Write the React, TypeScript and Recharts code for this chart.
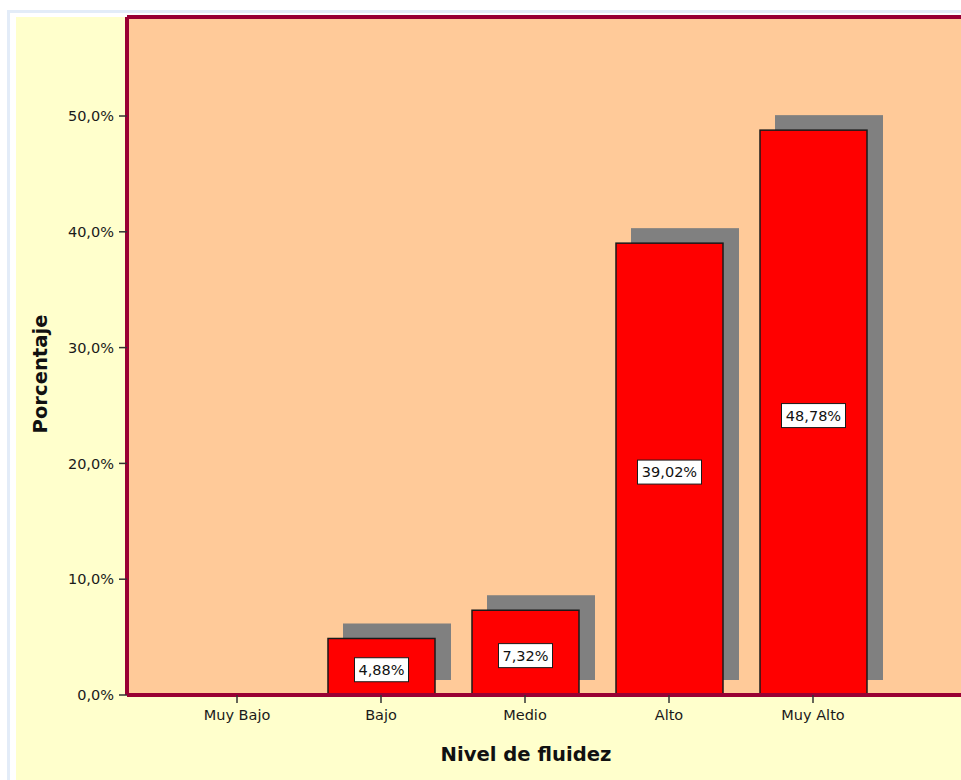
import React from 'react';
import { BarChart, Bar, XAxis, YAxis, CartesianGrid, LabelList, ReferenceLine } from 'recharts';

const categories = ['Muy Bajo', 'Bajo', 'Medio', 'Alto', 'Muy Alto'];
const percentages = [0, 4.88, 7.32, 39.02, 48.78];
const yTicks = [0, 10, 20, 30, 40, 50];
const yMax = 58.55;

const data = categories.map((c, i) => ({ name: c, value: percentages[i] }));

const FONT = '"DejaVu Sans", Verdana, sans-serif';
const CRIMSON = '#990033';

const fmtPct = (v: number, d: number) => v.toFixed(d).replace('.', ',') + '%';

const BarWithShadow = (props: any) => {
  const { x, y, width, height } = props;
  if (!height || height <= 0) return null;
  return (
    <g>
      <rect x={x + 15} y={y - 15} width={width + 1} height={height} fill="#808080" />
      <rect x={x} y={y} width={width} height={height} fill="#FF0000" stroke="#1a1a1a" strokeWidth={1.5} />
    </g>
  );
};

const renderLabel = (props: any) => {
  const { x, y, width, height, value } = props;
  if (!value) return null;
  const text = fmtPct(Number(value), 2);
  const w = text.length * 10 + 4;
  const h = 24;
  const cx = Number(x) + Number(width) / 2;
  const cy = Number(y) + Number(height) / 2 + 3;
  return (
    <g>
      <rect x={cx - w / 2} y={cy - h / 2} width={w} height={h} fill="#FFFFFF" stroke="#1a1a1a" strokeWidth={1} />
      <text x={cx} y={cy} textAnchor="middle" dominantBaseline="central" fontFamily={FONT} fontSize={14.5} fill="#111">
        {text}
      </text>
    </g>
  );
};

export default function App() {
  return (
    <div style={{ position: 'fixed', left: 0, top: 0, width: 961, height: 780, overflow: 'hidden', background: '#FFFFFF' }}>
      <div style={{ position: 'absolute', left: 7, top: 10, width: 1100, height: 900, background: '#E3ECF8' }} />
      <div style={{ position: 'absolute', left: 10, top: 13, width: 1100, height: 900, background: '#FFFFFF' }} />
      <div style={{ position: 'absolute', left: 16, top: 17, width: 1100, height: 900, background: '#FFFFCC' }} />
      <div style={{ position: 'absolute', left: 0, top: 0 }}>
        <BarChart width={1000} height={780} data={data} margin={{ top: 17, right: 0, left: 67, bottom: 55 }}>
          <CartesianGrid horizontal={false} vertical={false} fill="#FFCA99" />
          <XAxis
            dataKey="name"
            height={30}
            padding={{ left: 38, right: 115 }}
            axisLine={{ stroke: CRIMSON, strokeWidth: 4 }}
            tickLine={{ stroke: '#333', strokeWidth: 1.5 }}
            tickSize={8}
            tickMargin={7}
            tick={{ fill: '#1a1a1a', fontSize: 14.5, fontFamily: FONT }}
            interval={0}
          />
          <YAxis
            width={60}
            domain={[0, yMax]}
            ticks={yTicks}
            allowDataOverflow
            axisLine={{ stroke: CRIMSON, strokeWidth: 4 }}
            tickLine={{ stroke: '#333', strokeWidth: 1.5 }}
            tickSize={8}
            tickMargin={5}
            tick={{ fill: '#1a1a1a', fontSize: 14.5, fontFamily: FONT }}
            tickFormatter={(v: number) => fmtPct(v, 1)}
          />
          <ReferenceLine y={yMax} stroke={CRIMSON} strokeWidth={4} />
          <Bar dataKey="value" barSize={107} shape={BarWithShadow} isAnimationActive={false}>
            <LabelList dataKey="value" content={renderLabel} />
          </Bar>
        </BarChart>
      </div>
      <div
        style={{
          position: 'absolute', left: 40, top: 374, transform: 'translate(-50%, -50%) rotate(-90deg)',
          fontFamily: FONT, fontWeight: 'bold', fontSize: 19.6, color: '#111', whiteSpace: 'nowrap',
        }}
      >
        Porcentaje
      </div>
      <div
        style={{
          position: 'absolute', left: 526, top: 754, transform: 'translate(-50%, -50%)',
          fontFamily: FONT, fontWeight: 'bold', fontSize: 19.6, color: '#111', whiteSpace: 'nowrap',
        }}
      >
        Nivel de fluidez
      </div>
    </div>
  );
}
